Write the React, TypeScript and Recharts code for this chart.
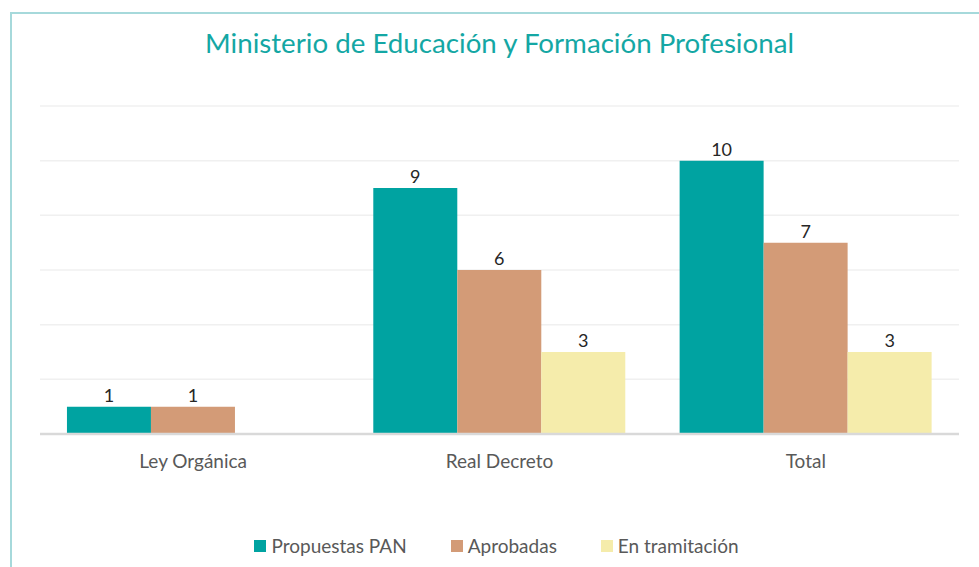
import React from 'react';
import { BarChart, Bar, XAxis, YAxis, CartesianGrid, Legend, LabelList } from 'recharts';

const categories = ['Ley Orgánica', 'Real Decreto', 'Total'];
const propuestasPAN = [1, 9, 10];
const aprobadas = [1, 6, 7];
const enTramitacion = [null, 3, 3];
const yTicks = [0, 2, 4, 6, 8, 10, 12];

const seriesNames = ['Propuestas PAN', 'Aprobadas', 'En tramitación'];
const seriesColors = ['#00A3A1', '#D39B77', '#F5ECAB'];

const data = categories.map((c, i) => ({
  name: c,
  propuestas: propuestasPAN[i],
  aprobadas: aprobadas[i],
  tramitacion: enTramitacion[i],
}));

const FONT = 'Lato, "Open Sans", sans-serif';

const LegendContent = () => (
  <div style={{ display: 'flex', justifyContent: 'center', alignItems: 'center', fontFamily: FONT, fontSize: 19, color: '#595959', paddingRight: 6 }}>
    {seriesNames.map((n, i) => (
      <div key={n} style={{ display: 'flex', alignItems: 'center', marginRight: i < 2 ? 44 : 0 }}>
        <span style={{ display: 'inline-block', width: 12, height: 12, background: seriesColors[i], marginRight: 5 }} />
        <span>{n}</span>
      </div>
    ))}
  </div>
);

export default function App() {
  return (
    <div style={{ position: 'absolute', left: 0, top: 0, width: 979, height: 567, background: '#fff', overflow: 'hidden', fontFamily: FONT }}>
      <div style={{ position: 'absolute', left: 10, top: 12, right: -10, bottom: -10, borderLeft: '2px solid #A6D9DB', borderTop: '2px solid #A6D9DB' }} />
      <div style={{ position: 'absolute', left: 40, width: 919, top: 26, textAlign: 'center', color: '#14A7A4', fontSize: 27.7, fontFamily: FONT }}>
        Ministerio de Educación y Formación Profesional
      </div>
      <div style={{ position: 'absolute', left: 0, top: 0 }}>
        <BarChart width={979} height={567} data={data} margin={{ top: 106, right: 20, left: 40, bottom: 70 }} barCategoryGap="8.8%" barGap={0}>
          <CartesianGrid vertical={false} stroke="#F0F0F0" strokeWidth={1.5} />
          <YAxis hide domain={[0, 12]} ticks={yTicks} />
          <XAxis dataKey="name" tickLine={false} axisLine={{ stroke: '#D9D9D9', strokeWidth: 2.5 }} tick={{ fill: '#595959', fontSize: 19, fontFamily: FONT }} tickMargin={15} height={40} />
          <Legend verticalAlign="bottom" align="center" content={LegendContent} wrapperStyle={{ bottom: 10 }} />
          <Bar dataKey="propuestas" name={seriesNames[0]} fill={seriesColors[0]} isAnimationActive={false}>
            <LabelList dataKey="propuestas" position="top" offset={5} fill="#262626" fontSize={18} fontFamily={FONT} />
          </Bar>
          <Bar dataKey="aprobadas" name={seriesNames[1]} fill={seriesColors[1]} isAnimationActive={false}>
            <LabelList dataKey="aprobadas" position="top" offset={5} fill="#262626" fontSize={18} fontFamily={FONT} />
          </Bar>
          <Bar dataKey="tramitacion" name={seriesNames[2]} fill={seriesColors[2]} isAnimationActive={false}>
            <LabelList dataKey="tramitacion" position="top" offset={5} fill="#262626" fontSize={18} fontFamily={FONT} />
          </Bar>
        </BarChart>
      </div>
    </div>
  );
}
